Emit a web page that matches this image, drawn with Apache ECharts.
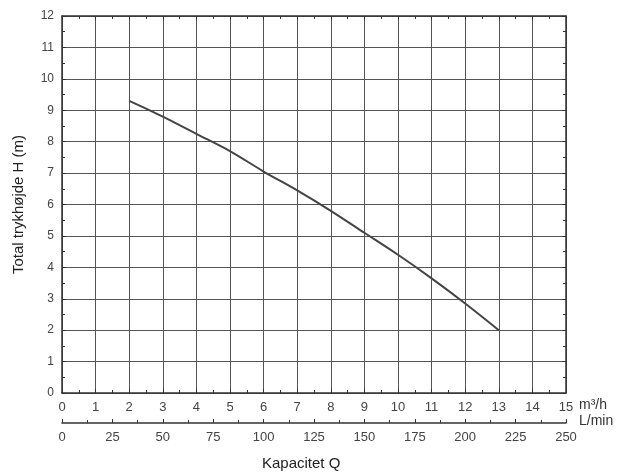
<!DOCTYPE html>
<html>
<head>
<meta charset="utf-8">
<script src="https://cdn.jsdelivr.net/npm/echarts@6/dist/echarts.min.js"></script>
<style>html,body{margin:0;padding:0;background:#fff}</style>
</head>
<body>
<div id="chart" style="width:629px;height:476px"></div>
<script>
// pump curve: flow (m3/h) vs head (m)
const flowM3h = [2, 3, 4, 5, 6, 7, 8, 9, 10, 11, 12, 13];
const headM = [9.3, 8.8, 8.25, 7.7, 7.05, 6.45, 5.8, 5.1, 4.4, 3.65, 2.85, 2.0];

const myChart = echarts.init(document.getElementById('chart'));
const ink = '#333';
const font = 'Liberation Sans Narrow, Liberation Sans, sans-serif';
myChart.setOption({
    animation: false,
    grid: {left: 62, right: 63, top: 16, bottom: 83},
    xAxis: [{
        type: 'value', min: 0, max: 15, interval: 1,
        axisLine: {onZero: false, lineStyle: {color: ink, width: 1.5}},
        axisTick: {inside: true, length: 4, lineStyle: {color: ink}},
        minorTick: {show: true, splitNumber: 2, length: 3, lineStyle: {color: ink}},
        splitLine: {lineStyle: {color: '#555', width: 1}},
        axisLabel: {color: '#444', fontSize: 13, fontFamily: font, margin: 8}
    }, {
        type: 'value', min: 0, max: 250, interval: 25, position: 'bottom', offset: 30,
        axisLine: {onZero: false, lineStyle: {color: ink, width: 1.5}},
        axisTick: {inside: true, length: 4, lineStyle: {color: ink}},
        minorTick: {show: true, splitNumber: 2, length: 3, lineStyle: {color: ink}},
        splitLine: {show: false},
        axisLabel: {color: '#444', fontSize: 13, fontFamily: font, margin: 8}
    }, {
        type: 'value', min: 0, max: 15, interval: 1, position: 'top',
        axisLine: {onZero: false, lineStyle: {color: ink, width: 1.5}},
        axisTick: {inside: true, length: 4, lineStyle: {color: ink}},
        minorTick: {show: true, splitNumber: 2, length: 3, lineStyle: {color: ink}},
        splitLine: {show: false}, axisLabel: {show: false}
    }],
    yAxis: [{
        type: 'value', min: 0, max: 12, interval: 1,
        name: 'Total trykhøjde H (m)', nameLocation: 'middle', nameGap: 36,
        nameTextStyle: {color: '#222', fontSize: 15, fontFamily: font},
        axisLine: {onZero: false, lineStyle: {color: ink, width: 1.5}},
        axisTick: {inside: true, length: 4, lineStyle: {color: ink}},
        minorTick: {show: true, splitNumber: 2, length: 3, lineStyle: {color: ink}},
        splitLine: {lineStyle: {color: '#555', width: 1}},
        axisLabel: {color: '#444', fontSize: 12, fontFamily: font, margin: 8}
    }, {
        type: 'value', min: 0, max: 12, interval: 1, position: 'right',
        axisLine: {onZero: false, lineStyle: {color: ink, width: 1.5}},
        axisTick: {inside: true, length: 4, lineStyle: {color: ink}},
        minorTick: {show: true, splitNumber: 2, length: 3, lineStyle: {color: ink}},
        splitLine: {show: false}, axisLabel: {show: false}
    }],
    graphic: [
        {type: 'text', left: 579, top: 398, style: {text: 'm³/h', fontSize: 14, fontFamily: font, fill: '#333'}},
        {type: 'text', left: 579, top: 414, style: {text: 'L/min', fontSize: 14, fontFamily: font, fill: '#333'}},
        {type: 'text', left: 262, top: 456, style: {text: 'Kapacitet Q', fontSize: 15, fontFamily: font, fill: '#222'}}
    ],
    series: [{
        type: 'line', xAxisIndex: 0, yAxisIndex: 0,
        data: flowM3h.map((x, i) => [x, headM[i]]),
        smooth: 0.3, showSymbol: false,
        lineStyle: {color: '#444', width: 2}
    }]
});
</script>
</body>
</html>
